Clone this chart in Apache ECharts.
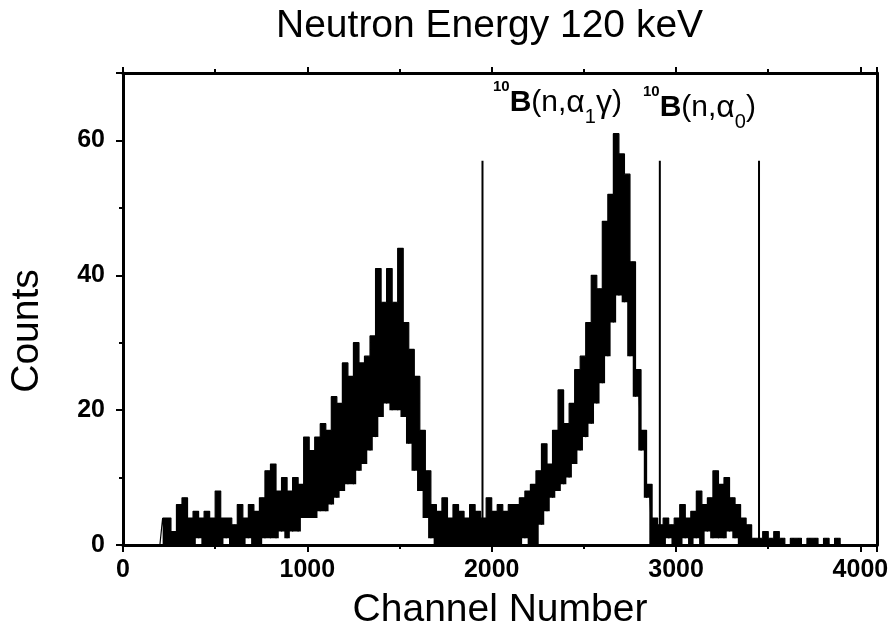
<!DOCTYPE html>
<html><head><meta charset="utf-8">
<script src="https://cdn.jsdelivr.net/npm/echarts@6/dist/echarts.min.js"></script>
<style>html,body{margin:0;padding:0;background:#fff}#c{width:894px;height:635px}</style>
</head><body><div id="c"></div>
<script>
// Spectrum: bins of 15 channels starting at channel 200
// (alternating low / high edge of the noisy band).
const binStart = 200, binWidth = 15;
const countsLowTail = [
  0,4,0,4,0,2,0,6,0,7,
  0,4,0,5,1,4,0,5,0,4,
  0,8,0,4,1,4,0,3,0,6,
  0,4,1,6,0,5,0,7,1,11,
  1,12,1,8,2,10,1,8,2,10,
  2,9,4,16
];
const countsPeak1 = [
  4,14,4,16,5,18,5,17,6,22,
  7,21,8,27,9,25,9,30,11,27,
  12,28,14,31,16,41,19,36,21,41,
  20,36,20,44,19,33,15,29,11,25,
  8,17,4,11,1,6
];
const countsValley = [
  0,5,0,7,0,4,0,6,0,5,
  0,4,0,6,0,5,0,4,0,7,
  0,5,0,6,0,5,0,6
];
const countsPeak2 = [
  0,6,0,7,1,8,0,9,0,11,
  3,15,5,12,7,17,8,23,9,18,
  10,21,12,26,14,28,16,33,18,40,
  21,38,24,48,28,52,33,61,37,58,
  36,55,28,42,22,26,14,17,7,9,
  0,4,0,3
];
const countsPeak3Tail = [
  0,4,1,3,0,4,0,6,1,4,
  0,5,1,8,0,6,2,7,1,11,
  1,9,1,10,2,7,1,6,0,4,
  0,3,0,1,0,1,0,2,0,1,
  0,2,0,1,0,0,0,1,0,1,
  0,0,0,1,0,1,0,0,0,1,
  0,0,0,1,0,0,0
];
const markerChannels = [1950, 2912, 3450];
const markerHeight = 57;
const xTickLabels = [0, 1000, 2000, 3000, 4000];
const yTickLabels = [0, 20, 40, 60];

const counts = [].concat(countsLowTail, countsPeak1, countsValley, countsPeak2, countsPeak3Tail);
const spectrum = counts.map((v, i) => [binStart + i * binWidth, v]);
const upperBand = spectrum.filter((p, i) => i % 2 === 1);
const lowerBand = spectrum.filter((p, i) => i % 2 === 0);

const FONT = '"Liberation Sans", Arial, Helvetica, sans-serif';
const X_MIN = 0, X_MAX = 4090, Y_MIN = 0, Y_MAX = 70;
const axisLineStyle = { color: '#000', width: 3 };

const rich = {
  sup: { fontFamily: FONT, fontSize: 15, fontWeight: 'bold', lineHeight: 20, verticalAlign: 'top', color: '#000' },
  b:   { fontFamily: FONT, fontSize: 30, fontWeight: 'bold', lineHeight: 48, verticalAlign: 'middle', color: '#000' },
  n:   { fontFamily: FONT, fontSize: 30, fontWeight: 'normal', lineHeight: 48, verticalAlign: 'middle', color: '#000' },
  g:   { fontFamily: FONT, fontSize: 32, fontWeight: 'normal', lineHeight: 48, verticalAlign: 'middle', color: '#000' },
  sub: { fontFamily: FONT, fontSize: 20, fontWeight: 'normal', lineHeight: 16, verticalAlign: 'bottom', color: '#000' }
};

const chart = echarts.init(document.getElementById('c'), null, { renderer: 'canvas' });
chart.setOption({
  animation: false,
  backgroundColor: '#fff',
  grid: { left: 123, right: 17, top: 73, bottom: 87 },
  title: [
    { text: 'Neutron Energy 120 keV', left: 276, top: 7, padding: 0,
      textStyle: { fontFamily: FONT, fontSize: 39, fontWeight: 'normal', color: '#000', lineHeight: 39 } },
    { text: '{sup|10}{b|B}{n|(n,}{g|α}{sub|1}{g|γ}{n|)}', left: 493, top: 79, padding: 0,
      textStyle: { rich: rich } },
    { text: '{sup|10}{b|B}{n|(n,}{g|α}{sub|0}{n|)}', left: 643, top: 84, padding: 0,
      textStyle: { rich: rich } }
  ],
  xAxis: [
    { type: 'value', position: 'bottom', min: X_MIN, max: X_MAX, interval: 1000, z: 10,
      axisLine: { show: true, onZero: false, lineStyle: axisLineStyle },
      axisTick: { show: true, inside: false, length: 7, lineStyle: { color: '#000', width: 2 } },
      minorTick: { show: true, splitNumber: 2, length: 4, lineStyle: { color: '#000', width: 2 } },
      splitLine: { show: false },
      axisLabel: { margin: 13, color: '#000', fontFamily: FONT, fontWeight: 'bold', fontSize: 25,
        formatter: v => xTickLabels.includes(v) ? String(v) : '' },
      name: 'Channel Number', nameLocation: 'middle', nameGap: 46,
      nameTextStyle: { fontFamily: FONT, fontSize: 39, color: '#000', lineHeight: 39 } },
    { type: 'value', position: 'top', min: X_MIN, max: X_MAX, interval: 1000, z: 10,
      axisLine: { show: true, onZero: false, lineStyle: axisLineStyle },
      axisTick: { show: true, inside: false, length: 6, lineStyle: { color: '#000', width: 2 } },
      minorTick: { show: true, splitNumber: 2, length: 4, lineStyle: { color: '#000', width: 2 } },
      splitLine: { show: false }, axisLabel: { show: false } }
  ],
  yAxis: [
    { type: 'value', position: 'left', min: Y_MIN, max: Y_MAX, interval: 20, z: 10,
      axisLine: { show: true, onZero: false, lineStyle: axisLineStyle },
      axisTick: { show: true, inside: false, length: 7, lineStyle: { color: '#000', width: 2 } },
      minorTick: { show: true, splitNumber: 2, length: 4, lineStyle: { color: '#000', width: 2 } },
      splitLine: { show: false },
      axisLabel: { margin: 18, color: '#000', fontFamily: FONT, fontWeight: 'bold', fontSize: 25,
        formatter: v => yTickLabels.includes(v) ? String(v) : '' } },
    { type: 'value', position: 'right', min: Y_MIN, max: Y_MAX, interval: 20, z: 10,
      axisLine: { show: true, onZero: false, lineStyle: axisLineStyle },
      axisTick: { show: false }, minorTick: { show: false },
      splitLine: { show: false }, axisLabel: { show: false } }
  ],
  graphic: [
    { type: 'text', x: 27, y: 331, rotation: Math.PI / 2,
      style: { text: 'Counts', fontFamily: FONT, fontSize: 39, fill: '#000', align: 'center', verticalAlign: 'middle' } }
  ],
  series: [
    { name: 'upper', type: 'line', step: 'middle', data: upperBand, symbol: 'none', showSymbol: false,
      lineStyle: { color: '#000', width: 1.2 }, areaStyle: { color: '#000', opacity: 1 }, z: 2, silent: true },
    { name: 'lower', type: 'line', step: 'middle', data: lowerBand, symbol: 'none', showSymbol: false,
      lineStyle: { color: '#fff', width: 0, opacity: 0 }, areaStyle: { color: '#fff', opacity: 1 }, z: 3, silent: true },
    { name: 'spectrum', type: 'line', data: spectrum, symbol: 'none', showSymbol: false,
      lineStyle: { color: '#000', width: 1.2 }, z: 4, silent: true }
  ].concat(markerChannels.map(c => ({
    type: 'line', data: [[c, 0], [c, markerHeight]],
    symbol: 'none', showSymbol: false, lineStyle: { color: '#000', width: 2 }, z: 5, silent: true
  })))
});
</script></body></html>
